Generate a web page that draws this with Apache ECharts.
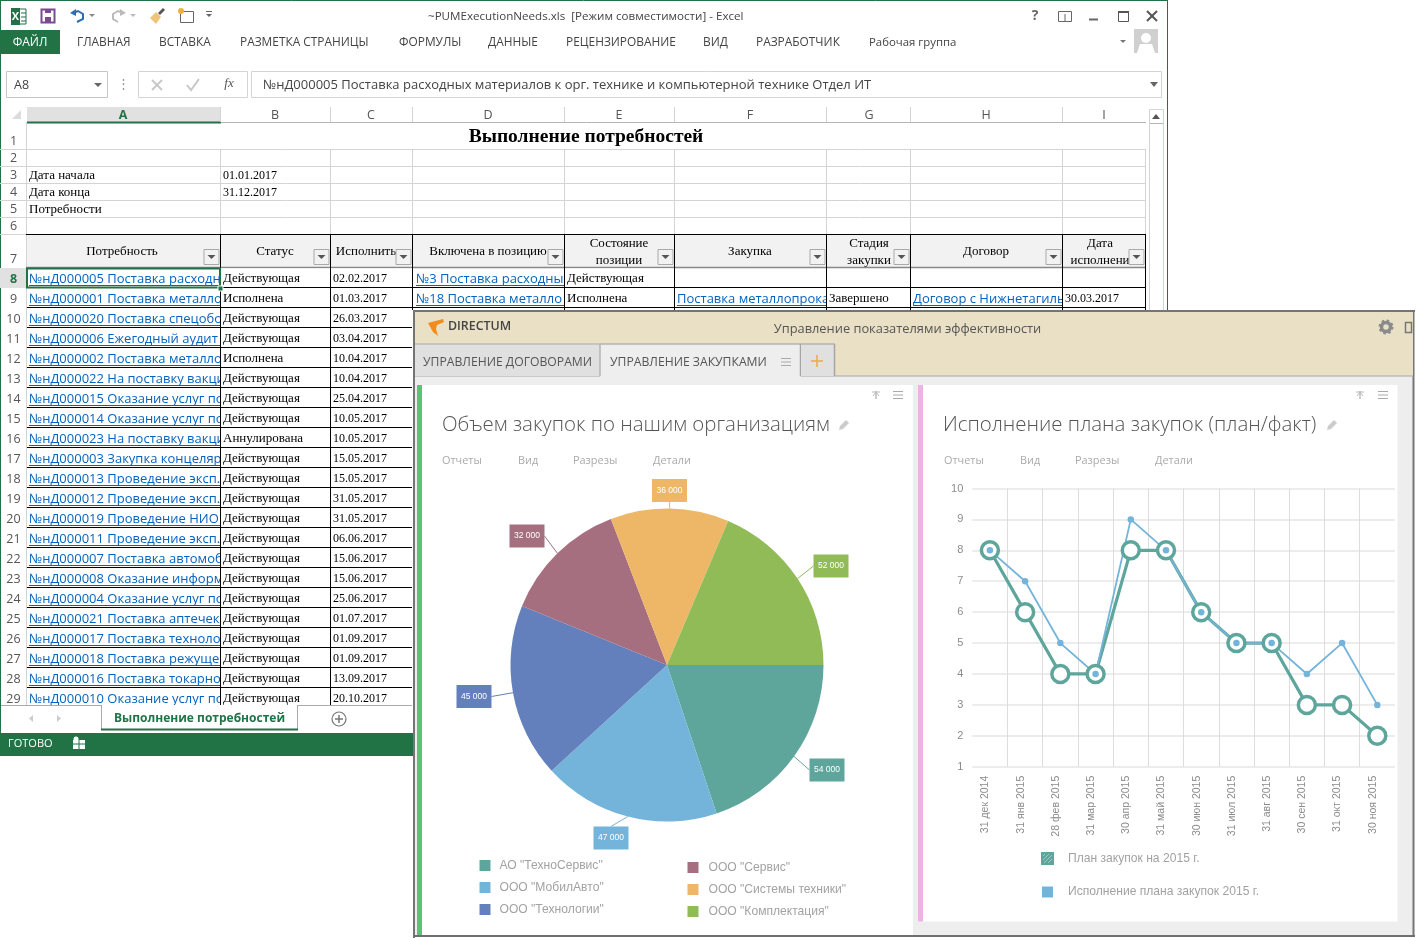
<!DOCTYPE html>
<html lang="ru">
<head>
<meta charset="UTF-8">
<title>Выполнение потребностей</title>
<script src="https://cdn.jsdelivr.net/npm/echarts@6/dist/echarts.min.js"></script>
<style>
  html, body { margin: 0; padding: 0; background: #fff; }
  #main { width: 1416px; height: 938px; }
</style>
</head>
<body>
<div id="main"></div>
<script>
// --- pie data
const orgNames = ['АО "ТехноСервис"', 'ООО "МобилАвто"', 'ООО "Технологии"', 'ООО "Сервис"', 'ООО "Системы техники"', 'ООО "Комплектация"'];
const orgVolumes = [54000, 47000, 45000, 32000, 36000, 52000];
// the slices in the picture are not quite proportional to the printed volumes, so arcs are read separately (degrees)
const orgArcs = [71.5, 66, 64.6, 46.9, 44, 67];
const orgColors = ['#5ea69c', '#75b4da', '#6380bc', '#a56f80', '#edb767', '#91bb57'];

// --- line data
const monthLabels = ['31 дек 2014', '31 янв 2015', '28 фев 2015', '31 мар 2015', '30 апр 2015', '31 май 2015', '30 июн 2015', '31 июл 2015', '31 авг 2015', '30 сен 2015', '31 окт 2015', '30 ноя 2015'];
const planValues = [8, 6, 4, 4, 8, 8, 6, 5, 5, 3, 3, 2];
const factValues = [8, 7, 5, 4, 9, 8, 6, 5, 5, 4, 5, 3];
const planName = 'План закупок на 2015 г.';
const factName = 'Исполнение плана закупок 2015 г.';

// --- spreadsheet text
const colLetters = ['A', 'B', 'C', 'D', 'E', 'F', 'G', 'H', 'I'];
const needRows = [
  '№нД000005 Поставка расходн', '№нД000001 Поставка металло', '№нД000020 Поставка спецобо',
  '№нД000006 Ежегодный аудит', '№нД000002 Поставка металло', '№нД000022 На поставку вакци',
  '№нД000015 Оказание услуг по', '№нД000014 Оказание услуг по', '№нД000023 На поставку вакци',
  '№нД000003 Закупка концеляр', '№нД000013 Проведение эксп.', '№нД000012 Проведение эксп.',
  '№нД000019 Проведение НИО', '№нД000011 Проведение эксп.', '№нД000007 Поставка автомоб',
  '№нД000008 Оказание информ', '№нД000004 Оказание услуг по', '№нД000021 Поставка аптечек',
  '№нД000017 Поставка техноло', '№нД000018 Поставка режуще', '№нД000016 Поставка токарно',
  '№нД000010 Оказание услуг по'
];
const statusRows = ['Действующая', 'Исполнена', 'Действующая', 'Действующая', 'Исполнена', 'Действующая', 'Действующая', 'Действующая', 'Аннулирована', 'Действующая', 'Действующая', 'Действующая', 'Действующая', 'Действующая', 'Действующая', 'Действующая', 'Действующая', 'Действующая', 'Действующая', 'Действующая', 'Действующая', 'Действующая'];
const dateRows = ['02.02.2017', '01.03.2017', '26.03.2017', '03.04.2017', '10.04.2017', '10.04.2017', '25.04.2017', '10.05.2017', '10.05.2017', '15.05.2017', '15.05.2017', '31.05.2017', '31.05.2017', '06.06.2017', '15.06.2017', '15.06.2017', '25.06.2017', '01.07.2017', '01.09.2017', '01.09.2017', '13.09.2017', '20.10.2017'];
const ribbonTabs = ['ГЛАВНАЯ', 'ВСТАВКА', 'РАЗМЕТКА СТРАНИЦЫ', 'ФОРМУЛЫ', 'ДАННЫЕ', 'РЕЦЕНЗИРОВАНИЕ', 'ВИД', 'РАЗРАБОТЧИК', 'Рабочая группа'];
const cardMenu = ['Отчеты', 'Вид', 'Разрезы', 'Детали'];

const UI = '"Open Sans", sans-serif';
const SERIF = '"Liberation Serif", serif';
const SANS = '"Liberation Sans", sans-serif';
const GREEN = '#217346';
const LINK = '#0563c1';

// window furniture is painted with graphic elements, in order
const chrome = [];
function R(x, y, w, h, fill, stroke, lw) {
  chrome.push({ type: 'rect', shape: { x, y, width: w, height: h }, style: { fill: fill || 'none', stroke: stroke || 'none', lineWidth: lw || 1 } });
}
function L(x1, y1, x2, y2, color, lw) {
  chrome.push({ type: 'line', shape: { x1, y1, x2, y2 }, style: { stroke: color, lineWidth: lw || 1 } });
}
function P(points, fill) {
  chrome.push({ type: 'polygon', shape: { points }, style: { fill } });
}
function C(cx, cy, r, fill, stroke, lw) {
  chrome.push({ type: 'circle', shape: { cx, cy, r }, style: { fill: fill || 'none', stroke: stroke || 'none', lineWidth: lw || 1 } });
}
function T(x, y, text, size, color, o) {
  o = o || {};
  chrome.push({ type: 'text', style: { x, y: y + 4, text, fontSize: size, fill: color, fontFamily: o.font || UI, fontWeight: o.w || 'normal', fontStyle: o.i ? 'italic' : 'normal', align: o.a || 'left', verticalAlign: 'middle' } });
}
function burger(x, y) {
  for (let i = 0; i < 3; i++) L(x - 5, y - 3.5 + i * 3.5, x + 5, y - 3.5 + i * 3.5, '#aaaaaa', 1);
}
function pin(x, y) {
  L(x, y - 4, x, y + 4, '#999999', 1);
  L(x - 4, y - 3, x + 4, y - 3, '#bbbbbb', 1);
  L(x - 3, y + 1, x, y - 3, '#bbbbbb', 1);
  L(x + 3, y + 1, x, y - 3, '#bbbbbb', 1);
}
function pencil(x, y) {
  P([[x - 5, y + 5], [x - 4, y + 1], [x + 2, y - 5], [x + 5, y - 2], [x - 1, y + 4]], '#cccccc');
}

// ---------- Excel window
const colEdges = [26, 220.5, 330.5, 412.5, 564.5, 674.5, 826.5, 910.5, 1062.5, 1145.5];
const WORD = 13, DATE = 12, HREF = 13;
L(0, 0.5, 1167, 0.5, GREEN, 1);
L(0.5, 0, 0.5, 756, GREEN, 1);
L(1167.5, 0, 1167.5, 310, GREEN, 1);

// title bar icons
R(12, 9, 14, 15, '#ffffff', GREEN, 1);
R(11, 8, 9, 17, GREEN);
T(15.5, 12.5, 'X', 11, '#ffffff', { a: 'center', w: 'bold' });
L(21, 13, 26, 13, GREEN, 1); L(21, 17, 26, 17, GREEN, 1); L(21, 21, 26, 21, GREEN, 1);
R(41.5, 9.5, 13, 13, '#ffffff', '#7a4a94', 2);
R(45, 9, 6, 4, '#7a4a94');
R(45, 17, 6, 5, '#7a4a94');
chrome.push({ type: 'polyline', shape: { points: [[73, 13], [78, 11], [83, 14], [83, 19], [77, 22]] }, style: { stroke: '#2a6fb5', lineWidth: 2, fill: 'none' } });
P([[70, 13], [76, 9], [76, 16]], '#2a6fb5');
P([[89, 14], [95, 14], [92, 17]], '#888888');
chrome.push({ type: 'polyline', shape: { points: [[123, 13], [118, 11], [113, 14], [113, 19], [118, 22]] }, style: { stroke: '#bbbbbb', lineWidth: 2, fill: 'none' } });
P([[126, 13], [120, 9], [120, 16]], '#bbbbbb');
P([[130, 14], [136, 14], [133, 17]], '#bbbbbb');
P([[150, 18], [156, 12], [161, 17], [156, 24]], '#efc47a');
P([[158, 13], [163, 8], [165, 10], [160, 15]], '#555555');
R(180.5, 11.5, 13, 11, '#ffffff', '#666666', 1);
C(181, 11, 3, '#f0b040');
P([[206, 14], [212, 14], [209, 17]], '#666666');
L(206, 11.5, 212, 11.5, '#666666', 1);
T(428, 13, '~PUMExecutionNeeds.xls  [Режим совместимости] - Excel', 11.6, '#444444');
T(1035, 12, '?', 14, '#666666', { a: 'center', w: 'bold' });
R(1058.5, 11.5, 13, 10, 'none', '#666666', 1);
L(1065, 14, 1065, 21, '#666666', 1);
L(1089, 19.5, 1098, 19.5, '#666666', 2);
R(1118.5, 11.5, 10, 10, 'none', '#555555', 1);
L(1118, 12, 1129, 12, '#555555', 2);
L(1147, 11, 1157, 21, '#555555', 2);
L(1157, 11, 1147, 21, '#555555', 2);

// ribbon
R(1, 30, 59, 24, GREEN);
T(30, 38.5, 'ФАЙЛ', 12, '#ffffff', { a: 'center' });
const ribbonX = [77, 159, 240, 399, 488, 566, 703, 756, 869];
ribbonTabs.forEach((t, i) => T(ribbonX[i], 38.5, t, i === 8 ? 11.4 : 11.9, '#444444'));
P([[1120, 40], [1126, 40], [1123, 43]], '#777777');
R(1134, 29, 24, 24, '#d0d0d0');
C(1146, 38, 5, '#ffffff');
P([[1137, 53], [1140, 44], [1152, 44], [1155, 53]], '#ffffff');

// formula bar
R(6.5, 71.5, 101, 26, '#ffffff', '#c6c6c6');
T(14, 81, 'A8', 12.5, '#444444');
P([[94, 83], [102, 83], [98, 87]], '#666666');
T(123, 80, '⋮', 13, '#999999', { a: 'center' });
R(138.5, 71.5, 109, 26, '#ffffff', '#d4d4d4');
L(152, 80, 162, 90, '#c8c8c8', 2); L(162, 80, 152, 90, '#c8c8c8', 2);
chrome.push({ type: 'polyline', shape: { points: [[187, 85], [191, 90], [199, 79]] }, style: { stroke: '#c8c8c8', lineWidth: 2, fill: 'none' } });
T(229, 80, 'fx', 13, '#555555', { a: 'center', font: SERIF, i: true });
R(251.5, 71.5, 910, 26, '#ffffff', '#d4d4d4');
T(263, 81, '№нД000005 Поставка расходных материалов к орг. технике и компьютерной технике Отдел ИТ', 13, '#444444');
P([[1150, 82], [1158, 82], [1154, 87]], '#666666');

// column headers
R(27, 107, 194, 15, '#e1e1e1');
L(27, 122.5, 1146, 122.5, '#b5b5b5', 1);
L(27, 122.5, 221, 122.5, GREEN, 2);
P([[21, 119], [21, 110], [12, 119]], '#dcdcdc');
const colCenters = [123, 275, 371, 488, 619, 750, 869, 986, 1104];
colLetters.forEach((c, i) => {
  T(colCenters[i], 111.5, c, 12.5, i === 0 ? GREEN : '#555555', { a: 'center', w: i === 0 ? 'bold' : 'normal' });
  if (i > 0) L(colEdges[i], 107, colEdges[i], 122, '#d4d4d4');
});

// empty rows above the table
const topRows = [149.5, 166.5, 183.5, 200.5, 217.5, 234.5];
topRows.forEach(y => L(0, y, 1146, y, '#d4d4d4'));
for (let i = 1; i < 10; i++) L(colEdges[i], 149, colEdges[i], 234, '#d4d4d4');
L(26.5, 122, 26.5, 268, '#d4d4d4');
[137, 154.5, 171.5, 188.5, 205.5, 222.5, 255].forEach((y, i) => T(13.5, y, String(i + 1), 12.5, '#555555', { a: 'center' }));
T(586, 133, 'Выполнение потребностей', 19.5, '#000000', { a: 'center', font: SERIF, w: 'bold' });
T(29, 172, 'Дата начала', WORD, '#000000', { font: SERIF });
T(29, 189, 'Дата конца', WORD, '#000000', { font: SERIF });
T(29, 206, 'Потребности', WORD, '#000000', { font: SERIF });
T(223, 172, '01.01.2017', DATE, '#000000', { font: SERIF });
T(223, 189, '31.12.2017', DATE, '#000000', { font: SERIF });

// table header
R(27, 234.5, 1118, 33, '#f2f2f2');
const headCells = [
  [122, ['Потребность']], [275, ['Статус']], [366, ['Исполнить']], [488, ['Включена в позицию']],
  [619, ['Состояние', 'позиции']], [750, ['Закупка']], [869, ['Стадия', 'закупки']], [986, ['Договор']], [1100, ['Дата', 'исполнени']]
];
headCells.forEach(h => {
  const lines = h[1];
  lines.forEach((s, k) => T(h[0], lines.length === 1 ? 248 : 240 + k * 17, s, WORD, '#000000', { a: 'center', font: SERIF }));
});
L(26, 234.5, 1146, 234.5, '#000000');
L(26, 267.5, 1146, 267.5, '#888888', 1.5);
for (let i = 1; i < 10; i++) L(colEdges[i], 234, colEdges[i], 268, '#000000');
for (let i = 1; i < 10; i++) {
  const bx = colEdges[i] - 17;
  R(bx + 0.5, 249.5, 15, 15, '#f2f2f2', '#a9a9a9');
  P([[bx + 4, 255], [bx + 12, 255], [bx + 8, 259]], '#555555');
}

// table rows
function rowY(i) { return 268 + i * 20; }
needRows.forEach((need, i) => {
  const y = rowY(i);
  T(13.5, y + 7, String(i + 8), 12.5, i === 0 ? GREEN : '#555555', { a: 'center', w: i === 0 ? 'bold' : 'normal' });
  T(29, y + 7.5, need, HREF, LINK);
  L(29, y + 17.5, 220, y + 17.5, LINK, 1);
  R(221, y + 0.5, 191, 19, '#ffffff');
  T(223, y + 7, statusRows[i], WORD, '#000000', { font: SERIF });
  T(333, y + 7, dateRows[i], DATE, '#000000', { font: SERIF });
  L(26, y + 19.5, 412, y + 19.5, '#000000');
});
R(0, 268, 26, 20, '#e1e1e1');
T(13.5, 275, '8', 12.5, GREEN, { a: 'center', w: 'bold' });
L(220.5, 268, 220.5, 705, '#000000');
L(330.5, 268, 330.5, 705, '#000000');
L(412.5, 268, 412.5, 310, '#000000');
L(26.5, 268, 26.5, 705, '#d4d4d4');
// rows 8 and 9 carry the only visible cells of columns D..I
T(416, 275.5, '№3 Поставка расходны', HREF, LINK);
L(416, 285.5, 564, 285.5, LINK, 1);
T(416, 295.5, '№18 Поставка металло', HREF, LINK);
L(416, 305.5, 564, 305.5, LINK, 1);
R(565, 268.5, 109, 39, '#ffffff');
T(567, 275, 'Действующая', WORD, '#000000', { font: SERIF });
T(567, 295, 'Исполнена', WORD, '#000000', { font: SERIF });
T(677, 295.5, 'Поставка металлопрока', HREF, LINK);
L(677, 305.5, 826, 305.5, LINK, 1);
R(827, 288.5, 83, 19, '#ffffff');
T(829, 295, 'Завершено', WORD, '#000000', { font: SERIF });
T(913, 295.5, 'Договор с Нижнетагиль', HREF, LINK);
L(913, 305.5, 1062, 305.5, LINK, 1);
R(1063, 288.5, 82, 19, '#ffffff');
T(1065, 295, '30.03.2017', DATE, '#000000', { font: SERIF });
L(412, 287.5, 1146, 287.5, '#000000');
L(412, 307.5, 1146, 307.5, '#000000');
for (let i = 4; i < 10; i++) L(colEdges[i], 268, colEdges[i], 310, '#000000');
R(27, 268.5, 193, 19, 'none', GREEN, 2);
R(218, 286, 5, 5, GREEN, '#ffffff');

// scrollbar
R(1149.5, 109.5, 14, 201, '#ffffff', '#d4d4d4');
L(1150, 123.5, 1163, 123.5, '#b5b5b5');
P([[1152, 119], [1160, 119], [1156, 114]], '#555555');

// sheet tabs and status bar
R(1, 705, 412, 28, '#ffffff');
L(1, 705.5, 412, 705.5, '#ababab');
P([[33, 715], [33, 722], [29, 718.5]], '#cccccc');
P([[57, 715], [57, 722], [61, 718.5]], '#cccccc');
R(101, 705, 196, 24, '#ffffff');
L(101.5, 705, 101.5, 729, '#ababab');
L(297.5, 705, 297.5, 729, '#ababab');
L(101, 729.5, 298, 729.5, GREEN, 2);
T(199.5, 715, 'Выполнение потребностей', 12, GREEN, { a: 'center', w: 'bold' });
C(339, 719, 7, '#ffffff', '#777777', 1.2);
L(335, 719, 343, 719, '#777777', 1.5);
L(339, 715, 339, 723, '#777777', 1.5);
R(1, 733, 412, 23, GREEN);
T(8, 740, 'ГОТОВО', 11, '#ffffff');
R(73, 740, 12, 9, '#ffffff');
L(73, 744, 85, 744, GREEN); L(79, 740, 79, 749, GREEN);
C(76, 739, 2.5, '#ffffff');

// ---------- dashboard window
R(413, 310, 1000, 627, '#eeeeee');
L(413, 311, 1415, 311, '#757575', 2);
L(414, 310, 414, 938, '#757575', 2);
L(1413.5, 310, 1413.5, 937, '#757575', 2);
L(413, 936, 1415, 936, '#6f6f6f', 2);
R(415, 312, 998, 64, '#e9e0c6');
L(415, 376, 1413, 376, '#bdbdbd', 1.5);
P([[428, 323], [443, 319], [444, 322], [437, 325], [436, 329], [438, 336], [433, 332]], '#f28c1e');
T(448, 322.5, 'DIRECTUM', 12.4, '#444444', { w: '600' });
T(907.5, 325, 'Управление показателями эффективности', 12.85, '#555555', { a: 'center' });
C(1386, 327, 4.5, 'none', '#8a8a8a', 3.5);
chrome.push({ type: 'circle', shape: { cx: 1386, cy: 327, r: 6.5 }, style: { fill: 'none', stroke: '#8a8a8a', lineWidth: 2, lineDash: [2.5, 2.6] } });
R(1405.5, 322.5, 6, 10, 'none', '#777777', 1.5);

// tabs
R(415, 344, 185, 32, '#e0e0e0');
L(415, 344, 600, 344, '#bdbdbd', 1.5);
R(600, 344, 200.5, 33, '#eeeeee');
L(600, 344, 801, 344, '#b5b5b5', 1.5);
L(600, 344, 600, 376, '#b5b5b5', 1.5);
L(800.5, 344, 800.5, 376, '#a5a5a5', 1.5);
R(801, 344, 34, 32, '#e0e0e0');
L(801, 344, 835, 344, '#b5b5b5', 1.5);
L(834.5, 344, 834.5, 376, '#a5a5a5', 1.5);
T(423, 359, 'УПРАВЛЕНИЕ ДОГОВОРАМИ', 12.2, '#555555');
T(610, 359, 'УПРАВЛЕНИЕ ЗАКУПКАМИ', 12.2, '#555555');
burger(786, 362);
L(817, 355, 817, 367, '#eda84a', 1.5);
L(811, 361, 823, 361, '#eda84a', 1.5);

// cards
R(417, 385, 496, 550, '#ffffff');
R(417, 385, 5, 550, '#5cc46f');
R(918, 385, 479.5, 536.5, '#ffffff');
R(918, 385, 5, 536.5, '#efb2e6');
pin(876, 395); burger(898, 395);
pin(1360, 395); burger(1383, 395);
T(442, 421, 'Объем закупок по нашим организациям', 20.45, '#555555', { w: '300' });
T(943, 421, 'Исполнение плана закупок (план/факт)', 20.45, '#555555', { w: '300' });
pencil(844, 425);
pencil(1332, 425);
const menuX = [442, 518, 573, 653];
cardMenu.forEach((m, i) => {
  T(menuX[i], 456.5, m, 10.9, '#aaaaaa');
  T(menuX[i] + 502, 456.5, m, 10.9, '#aaaaaa');
});

// hatched swatch for the plan legend item
function hatchPattern() {
  const cv = document.createElement('canvas');
  cv.width = 4; cv.height = 4;
  const g = cv.getContext('2d');
  g.fillStyle = '#5ea69c';
  g.fillRect(0, 0, 4, 4);
  g.strokeStyle = '#9ccac3';
  g.lineWidth = 1;
  g.beginPath();
  g.moveTo(0, 4); g.lineTo(4, 0);
  g.stroke();
  return { image: cv, repeat: 'repeat' };
}

const legendText = { fontFamily: SANS, fontSize: 12.1, color: '#a2a2a2', padding: [0, 0, 0, 4] };
// where the value boxes sit around the pie
const pieBoxAt = [[827, 770], [611, 838], [474, 696.5], [527, 536], [669.5, 490.5], [831, 566]];

const chart = echarts.init(document.getElementById('main'), null, { renderer: 'canvas' });
chart.setOption({
  animation: false,
  graphic: { elements: chrome },
  legend: [
    { show: true, left: 479.5, top: 859.5, orient: 'vertical', padding: 0, itemGap: 10, itemWidth: 11, itemHeight: 11, icon: 'rect', textStyle: legendText, selectedMode: false, data: orgNames.slice(0, 3) },
    { show: true, left: 687.5, top: 861.5, orient: 'vertical', padding: 0, itemGap: 10, itemWidth: 11, itemHeight: 11, icon: 'rect', textStyle: Object.assign({}, legendText, { padding: [0, 0, 0, 5] }), selectedMode: false, data: orgNames.slice(3) },
    {
      show: true, left: 1041, top: 852, orient: 'vertical', padding: 0, itemGap: 21, itemWidth: 11, itemHeight: 11, icon: 'rect',
      textStyle: Object.assign({}, legendText, { padding: [0, 0, 0, 10] }), selectedMode: false,
      data: [
        { name: planName, icon: 'rect', itemStyle: { color: hatchPattern() } },
        { name: factName, icon: 'rect', itemStyle: { color: orgColors[1] } }
      ]
    }
  ],
  grid: { left: 972.3, top: 488.5, width: 422.6, height: 278.2, containLabel: false },
  xAxis: {
    type: 'category',
    data: monthLabels,
    axisLine: { show: false },
    axisTick: { show: false },
    axisLabel: { rotate: 90, interval: 0, margin: 9, fontFamily: SANS, fontSize: 10.5, color: '#8c8c8c', verticalAlign: 'bottom', lineHeight: 9 },
    splitLine: { show: true, showMinLine: false, showMaxLine: false, interval: 0, lineStyle: { color: '#dddddd', width: 1 } }
  },
  yAxis: {
    type: 'value',
    min: 1,
    max: 10,
    interval: 1,
    axisLine: { show: false },
    axisTick: { show: false },
    axisLabel: { margin: 9, fontFamily: SANS, fontSize: 11, color: '#8c8c8c' },
    splitLine: { show: true, lineStyle: { color: '#e6e6e6', width: 1.5 } }
  },
  series: [
    {
      type: 'pie',
      name: 'Объем закупок',
      center: [667, 665],
      radius: [0, 156.5],
      startAngle: 0,
      clockwise: true,
      data: orgNames.map((name, i) => ({
        name,
        value: orgArcs[i],
        itemStyle: { color: orgColors[i] },
        label: { backgroundColor: orgColors[i] }
      })),
      label: {
        show: true,
        position: 'outside',
        formatter: p => String(orgVolumes[p.dataIndex]).replace(/(\d)(\d{3})$/, '$1 $2'),
        color: '#ffffff',
        fontFamily: SANS,
        fontSize: 8.5,
        padding: [7, 4.5],
        lineHeight: 9
      },
      labelLine: { show: true, length: 12, length2: 0, smooth: false, lineStyle: { width: 1 } },
      labelLayout: p => ({ x: pieBoxAt[p.dataIndex][0], y: pieBoxAt[p.dataIndex][1], align: 'center', verticalAlign: 'middle' }),
      emphasis: { disabled: true }
    },
    {
      type: 'line',
      name: planName,
      data: planValues,
      symbol: 'circle',
      symbolSize: 17,
      lineStyle: { color: '#5ea69c', width: 3.2 },
      itemStyle: { color: '#ffffff', borderColor: '#5ea69c', borderWidth: 3.5 },
      emphasis: { disabled: true }
    },
    {
      type: 'line',
      name: factName,
      data: factValues,
      symbol: 'circle',
      symbolSize: 6.5,
      lineStyle: { color: '#75b4da', width: 1.8 },
      itemStyle: { color: '#75b4da' },
      emphasis: { disabled: true }
    }
  ]
});
</script>
</body>
</html>
